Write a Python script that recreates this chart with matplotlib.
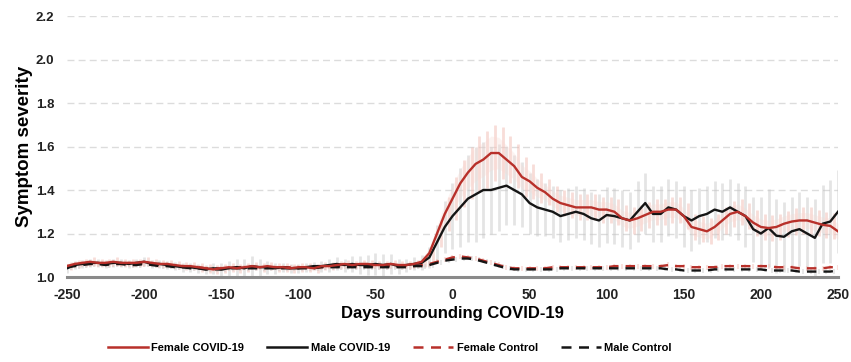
import numpy as np
import matplotlib
matplotlib.use("Agg")
import matplotlib.pyplot as plt
from matplotlib.lines import Line2D

plt.rcParams['font.family'] = ['Liberation Sans', 'DejaVu Sans']
plt.rcParams['font.weight'] = 'bold'

days = list(range(-250, 251, 5))

female_covid = [
    1.05, 1.06, 1.065, 1.07, 1.065, 1.065, 1.07, 1.065, 1.065, 1.065,
    1.07, 1.065, 1.06, 1.06, 1.055, 1.05, 1.05, 1.045, 1.04, 1.035,
    1.04, 1.045, 1.04, 1.045, 1.05, 1.045, 1.05, 1.045, 1.045, 1.04,
    1.045, 1.045, 1.04, 1.05, 1.05, 1.055, 1.06, 1.055, 1.06, 1.06,
    1.055, 1.055, 1.06, 1.055, 1.055, 1.06, 1.07, 1.11, 1.20, 1.29,
    1.36, 1.43, 1.48, 1.52, 1.54, 1.57, 1.57, 1.54, 1.51, 1.46,
    1.44, 1.41, 1.39, 1.36, 1.34, 1.33, 1.32, 1.32, 1.32, 1.31,
    1.31, 1.30, 1.27, 1.26, 1.27, 1.285, 1.30, 1.30, 1.31, 1.31,
    1.28, 1.23, 1.22, 1.21, 1.23, 1.26, 1.29, 1.30, 1.28, 1.25,
    1.23, 1.225, 1.23, 1.245, 1.255, 1.26, 1.26, 1.25, 1.24, 1.235,
    1.21]

male_covid = [
    1.04, 1.055, 1.06, 1.065, 1.065, 1.06, 1.065, 1.065, 1.06, 1.065,
    1.07, 1.06, 1.06, 1.055, 1.05, 1.045, 1.045, 1.04, 1.035, 1.04,
    1.035, 1.04, 1.045, 1.04, 1.05, 1.045, 1.045, 1.04, 1.045, 1.04,
    1.04, 1.045, 1.05, 1.05, 1.055, 1.06, 1.055, 1.06, 1.055, 1.055,
    1.06, 1.055, 1.06, 1.05, 1.055, 1.06, 1.065, 1.09, 1.16, 1.23,
    1.28, 1.32, 1.36, 1.38, 1.40, 1.40, 1.41, 1.42, 1.40, 1.38,
    1.34, 1.32, 1.31, 1.30, 1.28, 1.29, 1.30, 1.29, 1.27, 1.26,
    1.285, 1.28, 1.27, 1.26, 1.30, 1.34, 1.29, 1.29, 1.32, 1.31,
    1.28, 1.26, 1.28, 1.29, 1.31, 1.30, 1.32, 1.30, 1.28, 1.22,
    1.20, 1.225, 1.19, 1.185, 1.21, 1.22, 1.20, 1.18, 1.245, 1.255,
    1.30]

female_control = [
    1.05, 1.055, 1.06, 1.06, 1.06, 1.06, 1.06, 1.06, 1.06, 1.06,
    1.06, 1.06, 1.055, 1.055, 1.05, 1.05, 1.045, 1.045, 1.04, 1.04,
    1.04, 1.04, 1.045, 1.045, 1.045, 1.045, 1.045, 1.045, 1.045, 1.045,
    1.045, 1.045, 1.045, 1.045, 1.05, 1.05, 1.05, 1.05, 1.05, 1.05,
    1.05, 1.05, 1.05, 1.05, 1.05, 1.05, 1.055, 1.06, 1.07, 1.08,
    1.09, 1.095, 1.09, 1.085, 1.075, 1.065, 1.055, 1.045, 1.04, 1.04,
    1.04, 1.04, 1.04, 1.045, 1.045, 1.045, 1.045, 1.045, 1.045, 1.045,
    1.045, 1.05, 1.05, 1.05, 1.05, 1.05, 1.05, 1.05, 1.055, 1.05,
    1.05, 1.045, 1.045, 1.045, 1.045, 1.05, 1.05, 1.05, 1.05, 1.05,
    1.05, 1.05, 1.045, 1.045, 1.045, 1.04, 1.04, 1.04, 1.04, 1.045,
    1.045]

male_control = [
    1.045, 1.05, 1.055, 1.06, 1.06, 1.055, 1.06, 1.06, 1.055, 1.055,
    1.06, 1.055, 1.05, 1.05, 1.045, 1.045, 1.04, 1.04, 1.035, 1.035,
    1.035, 1.04, 1.04, 1.04, 1.04, 1.04, 1.04, 1.04, 1.04, 1.04,
    1.04, 1.04, 1.04, 1.045, 1.045, 1.045, 1.045, 1.045, 1.045, 1.045,
    1.045, 1.045, 1.045, 1.045, 1.045, 1.05, 1.05, 1.055, 1.065, 1.075,
    1.08, 1.085, 1.085, 1.08, 1.07, 1.06, 1.05, 1.04, 1.035, 1.035,
    1.035, 1.035, 1.035, 1.035, 1.04, 1.04, 1.04, 1.04, 1.04, 1.04,
    1.04, 1.04, 1.04, 1.04, 1.04, 1.04, 1.04, 1.04, 1.035, 1.035,
    1.03, 1.03, 1.03, 1.03, 1.035, 1.035, 1.035, 1.035, 1.035, 1.035,
    1.035, 1.03, 1.03, 1.03, 1.03, 1.025, 1.025, 1.025, 1.025, 1.025,
    1.03]

male_err = [
    0.02, 0.02, 0.02, 0.02, 0.02, 0.02, 0.02, 0.02, 0.02, 0.02,
    0.02, 0.02, 0.02, 0.02, 0.02, 0.02, 0.02, 0.02, 0.02, 0.025,
    0.03, 0.035, 0.04, 0.045, 0.045, 0.04, 0.03, 0.025, 0.02, 0.02,
    0.02, 0.02, 0.02, 0.025, 0.03, 0.03, 0.03, 0.035, 0.04, 0.045,
    0.05, 0.05, 0.045, 0.035, 0.03, 0.03, 0.035, 0.05, 0.08, 0.12,
    0.15, 0.18, 0.20, 0.22, 0.22, 0.20, 0.20, 0.18, 0.16, 0.15,
    0.14, 0.13, 0.12, 0.12, 0.12, 0.12, 0.12, 0.12, 0.12, 0.12,
    0.13, 0.13, 0.13, 0.13, 0.14, 0.14, 0.13, 0.13, 0.13, 0.13,
    0.14, 0.14, 0.13, 0.13, 0.13, 0.13, 0.13, 0.13, 0.14, 0.15,
    0.17, 0.18, 0.17, 0.16, 0.16, 0.17, 0.17, 0.18, 0.18, 0.19,
    0.19]

female_err = [
    0.02, 0.02, 0.02, 0.02, 0.02, 0.02, 0.02, 0.02, 0.02, 0.02,
    0.02, 0.02, 0.02, 0.02, 0.02, 0.02, 0.02, 0.02, 0.02, 0.02,
    0.02, 0.02, 0.02, 0.02, 0.02, 0.02, 0.02, 0.02, 0.02, 0.02,
    0.02, 0.02, 0.02, 0.02, 0.02, 0.02, 0.02, 0.02, 0.02, 0.02,
    0.02, 0.02, 0.02, 0.02, 0.02, 0.02, 0.025, 0.04, 0.06, 0.08,
    0.10, 0.11, 0.12, 0.13, 0.13, 0.13, 0.12, 0.11, 0.10, 0.09,
    0.08, 0.07, 0.06, 0.06, 0.06, 0.06, 0.06, 0.06, 0.06, 0.06,
    0.06, 0.06, 0.06, 0.06, 0.06, 0.06, 0.06, 0.06, 0.06, 0.06,
    0.06, 0.06, 0.06, 0.06, 0.06, 0.06, 0.06, 0.06, 0.06, 0.06,
    0.06, 0.06, 0.06, 0.06, 0.06, 0.06, 0.06, 0.06, 0.06, 0.06,
    0.06]

control_err = [0.012] * len(days)

x_ticks = [-250, -200, -150, -100, -50, 0, 50, 100, 150, 200, 250]
y_ticks = [1.0, 1.2, 1.4, 1.6, 1.8, 2.0, 2.2]

RED = '#b8302a'
BLACK = '#151515'

d = np.array(days)
fc = np.array(female_covid)
mc = np.array(male_covid)
fco = np.array(female_control)
mco = np.array(male_control)
me = np.array(male_err)
fe = np.array(female_err)
ce = np.array(control_err)

fig = plt.figure(figsize=(8.51, 3.62), dpi=100)
ax = fig.add_axes([0.0787, 0.2348, 0.906, 0.721])

# error bars
ax.vlines(d, mc - me, mc + me, color='#c4c4c4', lw=2.0, alpha=0.45, zorder=1)
ax.vlines(d + 2.5, fc - fe, fc + fe, color='#f0b4aa', lw=2.0, alpha=0.45, zorder=1)
ax.fill_between(d, fc - fe * 0.6, fc + fe * 0.6, color='#f8d8d2', alpha=0.3, lw=0, zorder=1)
ax.vlines(d, fco - ce, fco + ce, color='#f0b4aa', lw=1.5, alpha=0.4, zorder=1)
ax.vlines(d + 2.5, mco - ce, mco + ce, color='#c4c4c4', lw=1.5, alpha=0.4, zorder=1)

ax.plot(d, mc, color=BLACK, lw=1.7, zorder=4)
ax.plot(d, fc, color=RED, lw=1.7, zorder=5)
ax.plot(d, fco, color=RED, lw=1.7, ls=(0, (4, 3)), zorder=3)
ax.plot(d, mco, color=BLACK, lw=1.7, ls=(0, (4, 3)), zorder=3)

ax.set_xlim(-250, 250)
ax.set_ylim(1.0, 2.2)
ax.set_xticks(x_ticks)
ax.set_xticklabels([str(t) for t in x_ticks])
ax.set_yticks(y_ticks)
ax.set_yticklabels([f'{t:.1f}' for t in y_ticks])
ax.tick_params(axis='x', length=0, labelsize=10, colors='#222222', pad=8)
ax.tick_params(axis='y', length=0, labelsize=9.5, colors='#222222', pad=9)
for lbl in ax.get_xticklabels() + ax.get_yticklabels():
    lbl.set_fontweight('bold')

for yv in y_ticks[1:]:
    ax.axhline(yv, color='#dcdcdc', lw=1.0, ls=(0, (5, 3)), zorder=0)

for s in ['top', 'right', 'left']:
    ax.spines[s].set_visible(False)
ax.spines['bottom'].set_color('#8a8a8a')
ax.spines['bottom'].set_linewidth(2.2)
ax.spines['bottom'].set_zorder(6)

ax.set_xlabel('Days surrounding COVID-19', fontsize=12, fontweight='bold', labelpad=3)
ax.set_ylabel('Symptom severity', fontsize=13.5, fontweight='bold', labelpad=2)

handles = [
    Line2D([], [], color=RED, lw=1.8),
    Line2D([], [], color=BLACK, lw=1.8),
    Line2D([], [], color=RED, lw=1.8, ls=(0, (4, 3))),
    Line2D([], [], color=BLACK, lw=1.8, ls=(0, (4, 3))),
]
labels = ['Female COVID-19', 'Male COVID-19', 'Female Control', 'Male Control']
fig.legend(handles, labels, loc='center', bbox_to_anchor=(0.458, 0.038), ncol=4,
           frameon=False, prop={'size': 8, 'weight': 'bold'},
           handlelength=3.6, handletextpad=0.3, columnspacing=2.1)

fig.savefig('out.png', dpi=100)
